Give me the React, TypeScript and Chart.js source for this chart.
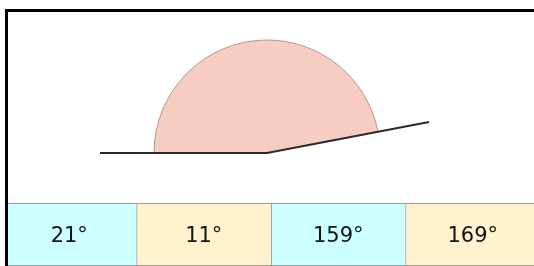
import React, { useEffect, useRef } from "react";
import { Chart, registerables } from "chart.js";

Chart.register(...registerables);

// Geometry of the figure (units = figure length units)
const rayPoints = [
  { x: -167, y: 0 },
  { x: 0, y: 0 },
  { x: 162, y: 31 },
];
const arcRadius = 113;
const arcStartDeg = 11; // angle of right ray above horizontal
const arcEndDeg = 180; // left ray

// Answer choices
const choiceLabels = ["21°", "11°", "159°", "169°"];
const choiceWidths = [1, 1, 1, 1];
const choiceColors = ["#ccffff", "#fff2cc", "#ccffff", "#fff2cc"];

const FIG_W = 526;
const FIG_H = 191;
const CENTER_PX = { x: 259, y: 141 };

export default function App() {
  const figRef = useRef<HTMLCanvasElement | null>(null);
  const tabRef = useRef<HTMLCanvasElement | null>(null);

  useEffect(() => {
    const arcPlugin = {
      id: "arcSector",
      beforeDatasetsDraw(chart: any) {
        const xs = chart.scales.x;
        const ys = chart.scales.y;
        const cx = xs.getPixelForValue(0);
        const cy = ys.getPixelForValue(0);
        const r = xs.getPixelForValue(arcRadius) - cx;
        const ctx = chart.ctx;
        const a0 = (Math.PI * arcEndDeg) / 180;
        const a1 = 2 * Math.PI - (Math.PI * arcStartDeg) / 180;
        ctx.save();
        ctx.beginPath();
        ctx.moveTo(cx, cy);
        ctx.arc(cx, cy, r, a0, a1, false);
        ctx.closePath();
        ctx.fillStyle = "#f8cdc1";
        ctx.fill();
        ctx.beginPath();
        ctx.arc(cx, cy, r, a0, a1, false);
        ctx.strokeStyle = "#b09890";
        ctx.lineWidth = 1;
        ctx.stroke();
        ctx.restore();
      },
    };

    const fig = new Chart(figRef.current!, {
      type: "scatter",
      data: {
        datasets: [
          {
            data: rayPoints,
            showLine: true,
            borderColor: "#2a2a2a",
            borderWidth: 2,
            pointRadius: 0,
            fill: false,
            tension: 0,
          },
        ],
      },
      options: {
        animation: false,
        responsive: false,
        devicePixelRatio: 1,
        layout: { padding: 0 },
        plugins: { legend: { display: false }, tooltip: { enabled: false } },
        scales: {
          x: { type: "linear", min: -CENTER_PX.x, max: FIG_W - CENTER_PX.x, display: false },
          y: { type: "linear", min: -(FIG_H - CENTER_PX.y), max: CENTER_PX.y, display: false },
        },
      },
      plugins: [arcPlugin],
    });

    const labelPlugin = {
      id: "cellLabels",
      afterDatasetsDraw(chart: any) {
        const ctx = chart.ctx;
        ctx.save();
        ctx.font = '21px "DejaVu Sans"';
        ctx.fillStyle = "#111111";
        ctx.textAlign = "center";
        ctx.textBaseline = "middle";
        chart.data.datasets.forEach((_d: any, i: number) => {
          const el = chart.getDatasetMeta(i).data[0];
          if (!el) return;
          const p = el.getCenterPoint();
          ctx.fillText(choiceLabels[i], p.x, p.y + 2);
        });
        ctx.restore();
      },
    };

    const tab = new Chart(tabRef.current!, {
      type: "bar",
      data: {
        labels: [""],
        datasets: choiceLabels.map((lab, i) => ({
          label: lab,
          data: [choiceWidths[i]],
          backgroundColor: choiceColors[i],
          borderColor: "#808080",
          borderWidth: { top: 1, bottom: 1, left: 1, right: 0 },
          borderSkipped: false,
          categoryPercentage: 1,
          barPercentage: 1,
        })),
      },
      options: {
        indexAxis: "y",
        animation: false,
        responsive: false,
        devicePixelRatio: 1,
        layout: { padding: 0 },
        plugins: { legend: { display: false }, tooltip: { enabled: false } },
        scales: {
          x: { type: "linear", stacked: true, min: 0, max: 4, display: false },
          y: { stacked: true, display: false },
        },
      },
      plugins: [labelPlugin],
    });

    return () => {
      fig.destroy();
      tab.destroy();
    };
  }, []);

  return (
    <div
      style={{
        position: "fixed",
        left: 0,
        top: 0,
        width: 534,
        height: 266,
        overflow: "hidden",
        background: "#ffffff",
      }}
    >
      <canvas
        ref={figRef}
        width={FIG_W}
        height={FIG_H}
        style={{ position: "absolute", left: 8, top: 12, width: FIG_W, height: FIG_H }}
      />
      <div
        style={{
          position: "absolute",
          left: 8,
          top: 203,
          width: 526,
          height: 63,
          overflow: "hidden",
        }}
      >
        <canvas
          ref={tabRef}
          width={538}
          height={63}
          style={{ position: "absolute", left: -6, top: 0, width: 538, height: 63 }}
        />
      </div>
      <div
        style={{
          position: "absolute",
          left: 5,
          top: 9,
          width: 3,
          height: 257,
          background: "#000",
          zIndex: 2,
        }}
      />
      <div
        style={{
          position: "absolute",
          left: 5,
          top: 9,
          width: 529,
          height: 3,
          background: "#000",
          zIndex: 2,
        }}
      />
    </div>
  );
}
